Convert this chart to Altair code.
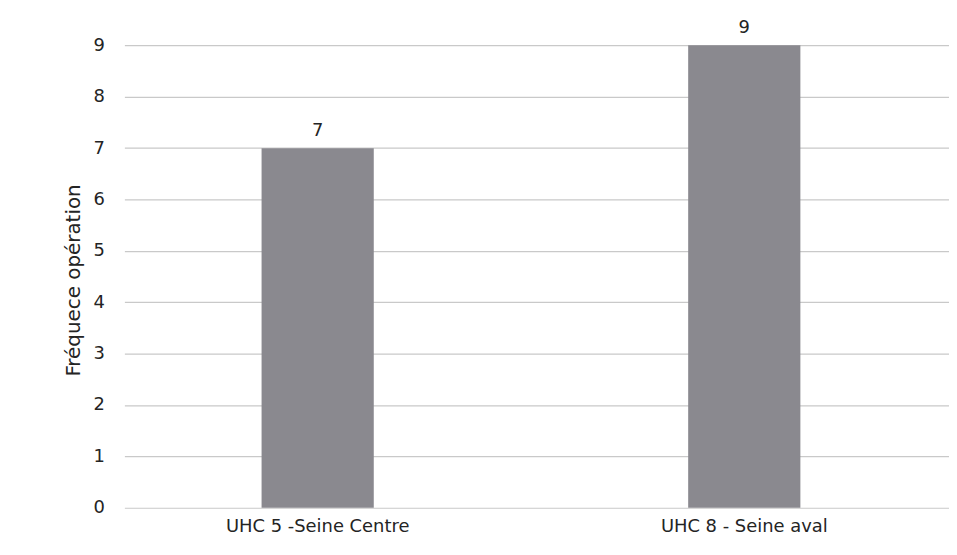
import altair as alt
import pandas as pd

categories = ["UHC 5 -Seine Centre", "UHC 8 - Seine aval"]
values = [7, 9]
y_ticks = [0, 1, 2, 3, 4, 5, 6, 7, 8, 9]

df = pd.DataFrame({"cat": categories, "val": values})

FONT = "DejaVu Sans"
TXT = "#242424"

base = alt.Chart(df).encode(
    x=alt.X(
        "cat:N",
        sort=categories,
        title=None,
        scale=alt.Scale(paddingInner=0.737, paddingOuter=0.335, align=0.48),
        axis=alt.Axis(
            labelAngle=0,
            labelFontSize=18,
            labelFont=FONT,
            labelColor=TXT,
            labelPadding=10,
            labelLimit=400,
            ticks=False,
            domain=False,
            grid=False,
        ),
    ),
    y=alt.Y(
        "val:Q",
        title="Fréquece opération",
        scale=alt.Scale(domain=[0, 9.7], nice=False, zero=True),
        axis=alt.Axis(
            values=y_ticks,
            labelFontSize=18,
            labelFont=FONT,
            labelColor=TXT,
            labelPadding=20,
            ticks=False,
            domain=False,
            grid=True,
            gridColor="#c9c9c9",
            gridWidth=1.2,
            titleFont=FONT,
            titleFontSize=20,
            titleFontWeight="normal",
            titleColor=TXT,
            titlePadding=10,
            titleY=272,
        ),
    ),
)

bars = base.mark_bar(color="#8a898f")
labels = base.mark_text(
    baseline="bottom", dy=-8, fontSize=18, font=FONT, color=TXT
).encode(text="val:Q")

chart = (
    (bars + labels)
    .properties(
        width=829,
        height=501,
        background="white",
        padding={"left": 55, "top": 0, "right": 0, "bottom": 5},
    )
    .configure_view(stroke=None)
)

chart.save("out.html", embed_options={"renderer": "svg", "actions": False})
